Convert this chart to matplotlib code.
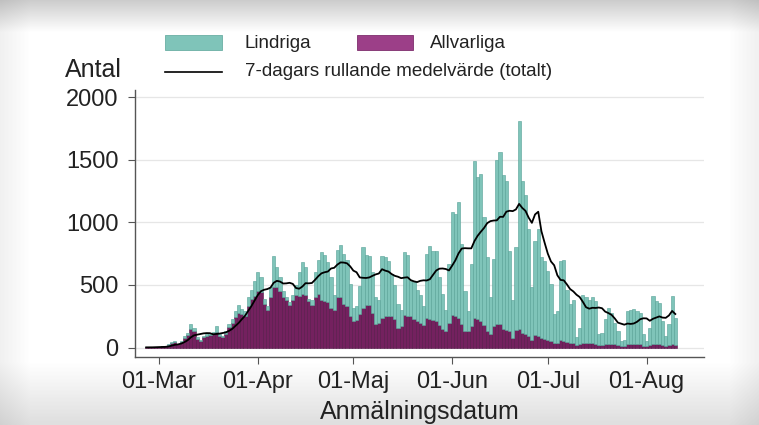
import numpy as np
import pandas as pd
import matplotlib
matplotlib.use("Agg")
import matplotlib.pyplot as plt
import matplotlib.dates as mdates
from matplotlib.patches import Rectangle
from matplotlib.lines import Line2D

plt.rcParams['font.family'] = ['Liberation Sans', 'DejaVu Sans']

start_date = '2020-02-26'

lindriga = [0, 0, 0, 1, 0, 1, 2, 3, 5, 5, 2, 5, 15, 20, 40, 25, 15, 10, 13, 15,
            17, 20, 50, 15, 13, 20, 25, 30, 45, 65, 45, 35, 70, 70, 120, 150, 120, 40, 30, 80,
            250, 160, 110, 50, 20, 20, 40, 80, 190, 250, 220, 20, 40, 200, 270, 380, 370, 320, 240, 120,
            380, 420, 400, 370, 260, 105, 110, 220, 480, 400, 390, 320, 210, 180, 490, 470, 440, 340, 270, 190,
            130, 500, 490, 280, 290, 250, 220, 150, 510, 580, 550, 560, 380, 280, 170, 470, 820, 815, 920, 640,
            320, 160, 500, 1250, 1130, 1170, 860, 590, 290, 535, 1310, 1375, 1230, 1190, 640, 300, 660, 1660, 1210, 1110,
            860, 420, 750, 860, 640, 620, 550, 460, 230, 250, 630, 645, 415, 310, 345, 65, 135, 380, 360, 345,
            365, 340, 90, 100, 205, 290, 250, 175, 115, 40, 45, 268, 275, 281, 268, 255, 91, 41, 142, 382,
            345, 331, 191, 78, 168, 382, 218]

allvarliga = [2, 2, 3, 4, 4, 9, 13, 22, 40, 45, 28, 45, 75, 100, 145, 135, 70, 50, 82, 90,
              98, 105, 125, 90, 82, 110, 165, 195, 245, 275, 265, 255, 330, 390, 410, 450, 440, 350, 300, 400,
              480, 480, 450, 400, 380, 340, 380, 420, 410, 430, 420, 370, 340, 400, 430, 380, 370, 360, 320, 300,
              400, 400, 350, 330, 250, 215, 220, 270, 320, 340, 340, 280, 190, 200, 240, 250, 250, 250, 230, 160,
              170, 260, 250, 250, 230, 210, 200, 180, 240, 230, 220, 210, 180, 150, 130, 200, 260, 250, 240, 190,
              130, 130, 170, 240, 230, 215, 180, 130, 110, 170, 190, 185, 150, 140, 130, 80, 140, 150, 120, 110,
              90, 60, 100, 90, 80, 70, 60, 50, 40, 40, 60, 55, 45, 40, 35, 20, 25, 40, 40, 35,
              35, 30, 20, 20, 25, 30, 30, 25, 20, 15, 15, 25, 25, 25, 25, 25, 15, 12, 18, 30,
              28, 28, 22, 15, 18, 30, 22]

month_ticks = ['2020-03-01', '2020-04-01', '2020-05-01', '2020-06-01', '2020-07-01', '2020-08-01']
month_labels = ['01-Mar', '01-Apr', '01-Maj', '01-Jun', '01-Jul', '01-Aug']
y_ticks = [0, 500, 1000, 1500, 2000]

dates = pd.date_range(start_date, periods=len(lindriga), freq='D')
lind = np.array(lindriga, dtype=float)
allv = np.array(allvarliga, dtype=float)
rolling = pd.Series(lind + allv).rolling(7, min_periods=1).mean()

W, H = 759, 425
fig = plt.figure(figsize=(W / 100, H / 100), dpi=100)

# screenshot-like vignette background
bg = fig.add_axes([0, 0, 1, 1], zorder=-10)
yy = np.arange(H)[:, None].astype(float)
xx = np.arange(W)[None, :].astype(float)
top = np.clip(0.80 + 0.20 * (yy / 32.0), 0, 1)
bot = np.clip(1 - 0.13 * ((yy - 362) / 63.0), 0.87, 1)
edge = 1 - 0.06 * np.clip((30 - xx) / 30, 0, 1) - 0.06 * np.clip((xx - (W - 30)) / 30, 0, 1)
img = top * bot * edge
bg.imshow(img, cmap='gray', vmin=0, vmax=1, aspect='auto', extent=[0, 1, 0, 1], origin='upper')
bg.axis('off')

ax = fig.add_axes([135 / W, 1 - 357 / H, (704 - 135) / W, (357 - 90) / H])
ax.set_facecolor('none')

ax.bar(dates, allv, width=1.0, color='#74215f', edgecolor='#521445', linewidth=0.4, zorder=2)
ax.bar(dates, lind, bottom=allv, width=1.0, color='#7fc4b9', edgecolor='#55a095', linewidth=0.4, zorder=2)
ax.plot(dates, rolling, color='black', lw=1.3, zorder=3)

mar1 = mdates.date2num(pd.Timestamp('2020-03-01'))
ax.set_xlim(mar1 - 7.5, mar1 + 171)
ax.set_ylim(-75, 2056)

ax.set_yticks(y_ticks)
ax.set_yticklabels([str(v) for v in y_ticks])
ax.set_xticks([mdates.date2num(pd.Timestamp(t)) for t in month_ticks])
ax.set_xticklabels(month_labels)

ax.grid(axis='y', color='#e6e6e6', lw=0.9, zorder=0)
ax.set_axisbelow(True)
for s in ['top', 'right']:
    ax.spines[s].set_visible(False)
for s in ['left', 'bottom']:
    ax.spines[s].set_color('#555555')
    ax.spines[s].set_linewidth(1.0)
ax.tick_params(axis='both', labelsize=17, length=5, color='#555555', labelcolor='#222222')
ax.tick_params(axis='y', pad=7)
ax.tick_params(axis='x', pad=5)

ax.set_xlabel('Anmälningsdatum', fontsize=18, color='#222222', labelpad=5)

fig.text(65 / W, 1 - 70 / H, 'Antal', fontsize=18, color='#222222', va='center', ha='left')

# legend (manual, two rows)
def fx(px):
    return px / W

def fy(py):
    return 1 - py / H

fig.patches.append(Rectangle((fx(165), fy(50)), fx(222) - fx(165), fy(35) - fy(50),
                             transform=fig.transFigure, facecolor='#7fc4b9', edgecolor='#6aaea3', lw=0.6))
fig.text(fx(245), fy(43), 'Lindriga', fontsize=13.5, color='#222222', va='center', ha='left')
fig.patches.append(Rectangle((fx(357), fy(50)), fx(413) - fx(357), fy(35) - fy(50),
                             transform=fig.transFigure, facecolor='#9c3f88', edgecolor='#7d2d6c', lw=0.6))
fig.text(fx(430), fy(43), 'Allvarliga', fontsize=13.5, color='#222222', va='center', ha='left')
fig.lines.append(Line2D([fx(165), fx(222)], [fy(72), fy(72)], transform=fig.transFigure,
                        color='black', lw=1.2))
fig.text(fx(245), fy(72), '7-dagars rullande medelvärde (totalt)', fontsize=13.5, color='#222222',
         va='center', ha='left')

fig.savefig('out.png', dpi=100)
